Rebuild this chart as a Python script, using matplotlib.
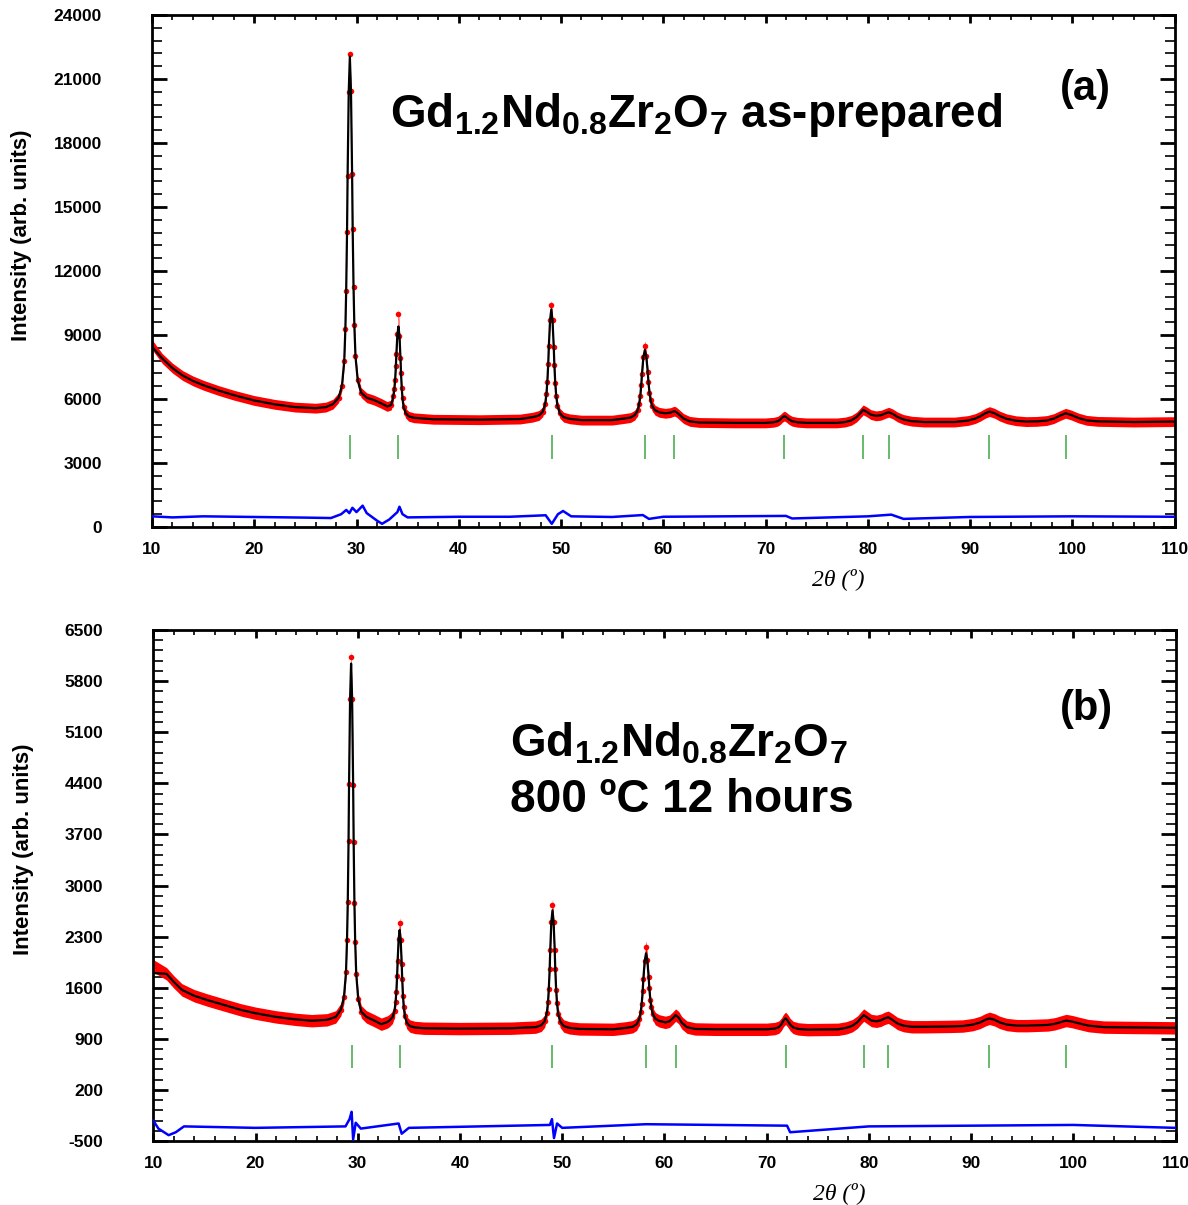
import numpy as np
import matplotlib
matplotlib.use('Agg')
import matplotlib.pyplot as plt
from matplotlib import font_manager
from matplotlib.ticker import MultipleLocator, FixedLocator

# ---- panel (a): as-prepared ----
# calculated profile (2theta, intensity)
tt_a = [10.0, 11.0, 12.0, 13.0, 14.0, 15.0, 16.5, 18.0, 20.0, 22.0, 24.0, 26.0, 27.0,
        27.7, 28.25, 28.58, 28.8, 28.91, 28.99, 29.075, 29.13, 29.24, 29.35,
        29.46, 29.57, 29.625, 29.71, 29.79, 29.9, 30.12, 30.45, 31.0, 31.7, 32.4,
        33.0, 33.4, 33.6, 33.7, 33.775, 33.85, 33.9, 34.0, 34.1,
        34.2, 34.3, 34.35, 34.425, 34.5, 34.6, 34.8, 35.1, 35.6, 37.5, 42.0, 46.0,
        47.25, 47.85, 48.21, 48.45, 48.57, 48.66, 48.75, 48.81, 48.93, 49.05,
        49.17, 49.29, 49.35, 49.44, 49.53, 49.65, 49.89, 50.25, 50.85, 52.0, 55.0,
        56.1, 56.8, 57.22, 57.5, 57.64, 57.745, 57.85, 57.92, 58.06, 58.2,
        58.34, 58.48, 58.55, 58.655, 58.76, 58.9, 59.18, 59.6, 60.2, 60.7, 60.9,
        61.1, 61.3, 61.6, 62.0, 62.6, 63.5, 67.0,
        70.0, 70.8, 71.2, 71.45, 71.65, 71.85, 72.05, 72.3, 72.6, 73.1, 74.0,
        77.0, 77.8, 78.4, 78.9, 79.2, 79.55, 79.9, 80.3, 80.8, 81.3, 81.7, 82.05,
        82.45, 82.9, 83.5, 84.3, 85.5, 88.5, 89.8, 90.5, 91.0, 91.5, 91.9, 92.4,
        92.9, 93.6, 94.5, 95.5, 96.5, 97.5, 98.2, 98.8, 99.35, 99.9, 100.6, 101.4,
        102.5, 106.0, 110.0]
calc_a = [8450, 7900, 7450, 7100, 6850, 6650, 6400, 6180, 5930, 5750, 5620, 5570, 5620,
          5760, 6060, 6630, 7780, 9260, 11060, 13850, 16470, 20410, 22050,
          20435, 16560, 13975, 11230, 9450, 8000, 6870, 6300, 6060, 5950, 5800,
          5650, 5720, 6140, 6475, 6890, 7525, 8125, 9025, 9400,
          8970, 7930, 7240, 6505, 6030, 5640, 5340, 5190, 5120, 5050, 5030, 5060,
          5150, 5230, 5400, 5760, 6220, 6780, 7650, 8470, 9690, 10200,
          9680, 8440, 7610, 6730, 6160, 5690, 5330, 5150, 5070, 5010, 5010,
          5080, 5130, 5245, 5470, 5765, 6120, 6675, 7195, 7975, 8300,
          8000, 7280, 6800, 6290, 5960, 5690, 5480, 5375, 5330, 5360, 5400,
          5430, 5380, 5250, 5080, 4950, 4900, 4880,
          4880, 4910, 4960, 5040, 5140, 5200, 5140, 5040, 4960, 4910, 4880,
          4880, 4920, 5000, 5150, 5300, 5490, 5400, 5270, 5210, 5240, 5320, 5380,
          5300, 5160, 5040, 4960, 4920, 4920, 4990, 5080, 5190, 5330, 5410, 5330,
          5200, 5070, 4980, 4940, 4950, 4990, 5080, 5220, 5330, 5250, 5110, 5000,
          4950, 4920, 4940]
# observed maxima where the red points sit above the fit
obs_top_a = {10.0: 8550, 29.35: 22150, 34.1: 10000, 49.05: 10400, 58.2: 8500}
# difference curve
tt_diff_a = [10, 12, 15, 20, 25, 27.5, 28.5, 29.0, 29.3, 29.6, 30.0, 30.6, 31.0,
             32.0, 32.5, 33.2, 34.0, 34.2, 34.5, 35, 40, 45, 48.5, 49.1, 49.7,
             50.2, 51, 55, 58, 58.6, 60, 72, 72.6, 80, 82.3, 83.5, 90, 100, 110]
diff_a = [500, 450, 500, 470, 440, 420, 600, 800, 650, 900, 700, 1000, 650,
          300, 150, 350, 700, 950, 600, 450, 480, 480, 550, 150, 600,
          750, 500, 470, 560, 380, 480, 520, 400, 500, 580, 380, 470, 500, 480]
bragg_a = [29.4, 34.1, 49.1, 58.2, 61.1, 71.85, 79.55, 82.05, 91.9, 99.35]

# ---- panel (b): 800 C 12 hours ----
tt_b = [10.0, 11.3, 12.0, 12.8, 14.0, 15.3, 17.0, 18.6, 20.0, 22.0, 24.0, 25.5, 27.0,
        27.85, 28.35, 28.65, 28.85, 28.95, 29.025, 29.1, 29.15, 29.25, 29.35,
        29.45, 29.55, 29.6, 29.675, 29.75, 29.85, 30.05, 30.35, 30.85, 31.6, 32.3,
        32.9, 33.1, 33.4, 33.6, 33.7, 33.775, 33.85, 33.9, 34.0, 34.1,
        34.2, 34.3, 34.35, 34.425, 34.5, 34.6, 34.8, 35.1, 35.6, 36.5, 40.0, 45.0,
        47.4, 47.95, 48.28, 48.5, 48.61, 48.69, 48.775, 48.83, 48.94, 49.05,
        49.16, 49.27, 49.325, 49.41, 49.49, 49.6, 49.82, 50.15, 50.7, 51.7, 55.0,
        56.25, 56.9, 57.29, 57.55, 57.68, 57.78, 57.875, 57.94, 58.07, 58.2,
        58.33, 58.46, 58.525, 58.62, 58.72, 58.85, 59.11, 59.5, 60.1, 60.5, 60.8,
        61.1, 61.4, 61.7, 62.2, 63.0, 65.0,
        70.0, 70.8, 71.2, 71.45, 71.65, 71.85, 72.05, 72.3, 72.6, 73.1, 74.0,
        77.0, 77.8, 78.4, 78.9, 79.2, 79.5, 79.85, 80.25, 80.75, 81.2, 81.55, 81.9,
        82.3, 82.8, 83.4, 84.2, 85.5, 88.0, 89.2, 90.2, 90.9, 91.4, 91.8, 92.3,
        92.8, 93.5, 94.5, 95.5, 96.5, 97.5, 98.2, 98.8, 99.3, 99.9, 100.6, 101.5,
        103.0, 106.0, 110.0]
calc_b = [1800, 1790, 1680, 1570, 1490, 1430, 1360, 1295, 1250, 1200, 1165, 1148, 1160,
          1200, 1300, 1470, 1810, 2250, 2780, 3610, 4390, 5550, 6040,
          5550, 4380, 3600, 2760, 2230, 1790, 1440, 1270, 1200, 1150, 1100,
          1130, 1150, 1195, 1285, 1400, 1540, 1755, 1960, 2265, 2390,
          2255, 1930, 1715, 1485, 1335, 1215, 1120, 1075, 1055, 1045, 1040, 1045,
          1060, 1085, 1140, 1255, 1400, 1580, 1850, 2110, 2500, 2660,
          2500, 2110, 1850, 1570, 1390, 1245, 1135, 1075, 1050, 1035, 1030,
          1050, 1065, 1100, 1175, 1265, 1380, 1555, 1720, 1965, 2070,
          1975, 1745, 1595, 1435, 1330, 1245, 1175, 1145, 1125, 1140, 1180,
          1225, 1190, 1120, 1060, 1035, 1030,
          1030, 1040, 1060, 1100, 1150, 1180, 1150, 1095, 1055, 1035, 1025,
          1030, 1050, 1080, 1130, 1180, 1225, 1190, 1150, 1140, 1155, 1180, 1195,
          1160, 1110, 1080, 1065, 1065, 1070, 1075, 1095, 1125, 1160, 1180, 1160,
          1125, 1095, 1080, 1080, 1085, 1090, 1105, 1130, 1150, 1135, 1110, 1080,
          1060, 1055, 1050]
obs_top_b = {10.0: 1900, 29.35: 6135, 34.1: 2480, 49.05: 2730, 58.2: 2160}
tt_diff_b = [10, 10.5, 11.5, 12.2, 13, 20, 28.8, 29.2, 29.4, 29.55, 29.8, 30.3,
             34.0, 34.3, 35, 48.8, 49.0, 49.2, 49.5, 50, 58.2, 72, 72.3, 80, 100, 110]
diff_b = [-220, -330, -420, -380, -300, -320, -300, -200, -100, -480, -250, -330,
          -260, -400, -320, -280, -200, -460, -260, -320, -270, -290, -380, -300,
          -280, -320]
bragg_b = [29.4, 34.1, 49.05, 58.2, 61.1, 71.85, 79.5, 81.9, 91.8, 99.3]

# fonts
avail = {f.name for f in font_manager.fontManager.ttflist}
SANS = 'Liberation Sans'
NARROW = 'Liberation Sans Narrow' if 'Liberation Sans Narrow' in avail else SANS
plt.rcParams['mathtext.fontset'] = 'custom'
plt.rcParams['mathtext.bf'] = NARROW + ':bold'
plt.rcParams['mathtext.rm'] = NARROW + ':bold'
plt.rcParams['mathtext.default'] = 'bf'
plt.rcParams['axes.unicode_minus'] = False

W, H = 1188, 1205
fig = plt.figure(figsize=(W / 100, H / 100), dpi=100)


def px_axes(l, t, r, b):
    return fig.add_axes([l / W, 1 - b / H, (r - l) / W, (b - t) / H])


def draw_panel(ax, tt, calc, obs_top, tt_d, diff, bragg, band, bragg_lo, bragg_hi,
               ymin, ymax, ymajor, yminor):
    obs = np.array([obs_top.get(t, c) for t, c in zip(tt, calc)], dtype=float)
    ax.fill_between(tt, obs - band, obs + band, color='#ff0000', lw=0, zorder=2)
    ax.plot(tt, obs, 'o', color='#ff0000', ms=4, mew=0, zorder=2)
    ax.plot(tt, calc, color='black', lw=1.6, zorder=3)
    ax.vlines(bragg, bragg_lo, bragg_hi, color='#4caf50', lw=1.2, zorder=3)
    ax.plot(tt_d, diff, color='#0000ff', lw=1.8, zorder=3)

    ax.set_xlim(10, 110)
    ax.set_ylim(ymin, ymax)
    ax.xaxis.set_major_locator(MultipleLocator(10))
    ax.xaxis.set_minor_locator(MultipleLocator(2))
    ax.yaxis.set_major_locator(FixedLocator(np.arange(ymin, ymax + 1, ymajor)))
    ax.yaxis.set_minor_locator(FixedLocator(np.arange(ymin, ymax + 1, yminor)))
    ax.tick_params(which='both', direction='in', top=True, right=True)
    ax.tick_params(axis='y', which='major', length=11, width=2, pad=36)
    ax.tick_params(axis='y', which='minor', length=7, width=1.2)
    ax.tick_params(axis='x', which='major', length=5.5, width=2, pad=11)
    ax.tick_params(axis='x', which='minor', length=3.5, width=1.2)
    for lab in ax.get_xticklabels() + ax.get_yticklabels():
        lab.set_fontfamily(SANS)
        lab.set_fontweight('bold')
        lab.set_fontsize(12.5)
    for sp in ax.spines.values():
        sp.set_linewidth(2)

    ax.set_ylabel('Intensity (arb. units)', family=SANS, weight='bold', fontsize=16)
    ax.yaxis.set_label_coords(-0.117, 0.57)
    ax.set_xlabel('2θ (º)', family='Liberation Serif', style='italic', fontsize=17)
    ax.xaxis.set_label_coords(0.671, -0.08)


ax_a = px_axes(152, 15, 1174.5, 527)
draw_panel(ax_a, tt_a, calc_a, obs_top_a, tt_diff_a, diff_a, bragg_a, 230,
           3200, 4300, 0, 24000, 3000, 600)

ax_b = px_axes(153.3, 630, 1175.5, 1141)
draw_panel(ax_b, tt_b, calc_b, obs_top_b, tt_diff_b, diff_b, bragg_b, 85,
           500, 820, -500, 6500, 700, 140)

# annotations
big = dict(family=NARROW, weight='bold', fontsize=33, va='baseline', ha='left')
fig.text(390 / W, 1 - 127 / H,
         'Gd$_{1.2}$Nd$_{0.8}$Zr$_{2}$O$_{7}$ as-prepared', **big)
fig.text(1085 / W, 1 - 100 / H, '(a)', family=NARROW, weight='bold',
         fontsize=30, va='baseline', ha='center')

fig.text(510 / W, 1 - 756 / H, 'Gd$_{1.2}$Nd$_{0.8}$Zr$_{2}$O$_{7}$', **big)
fig.text(510 / W, 1 - 812 / H, '800 ºC 12 hours', **big)
fig.text(1086 / W, 1 - 720 / H, '(b)', family=NARROW, weight='bold',
         fontsize=30, va='baseline', ha='center')

fig.savefig('out.png', dpi=100)
